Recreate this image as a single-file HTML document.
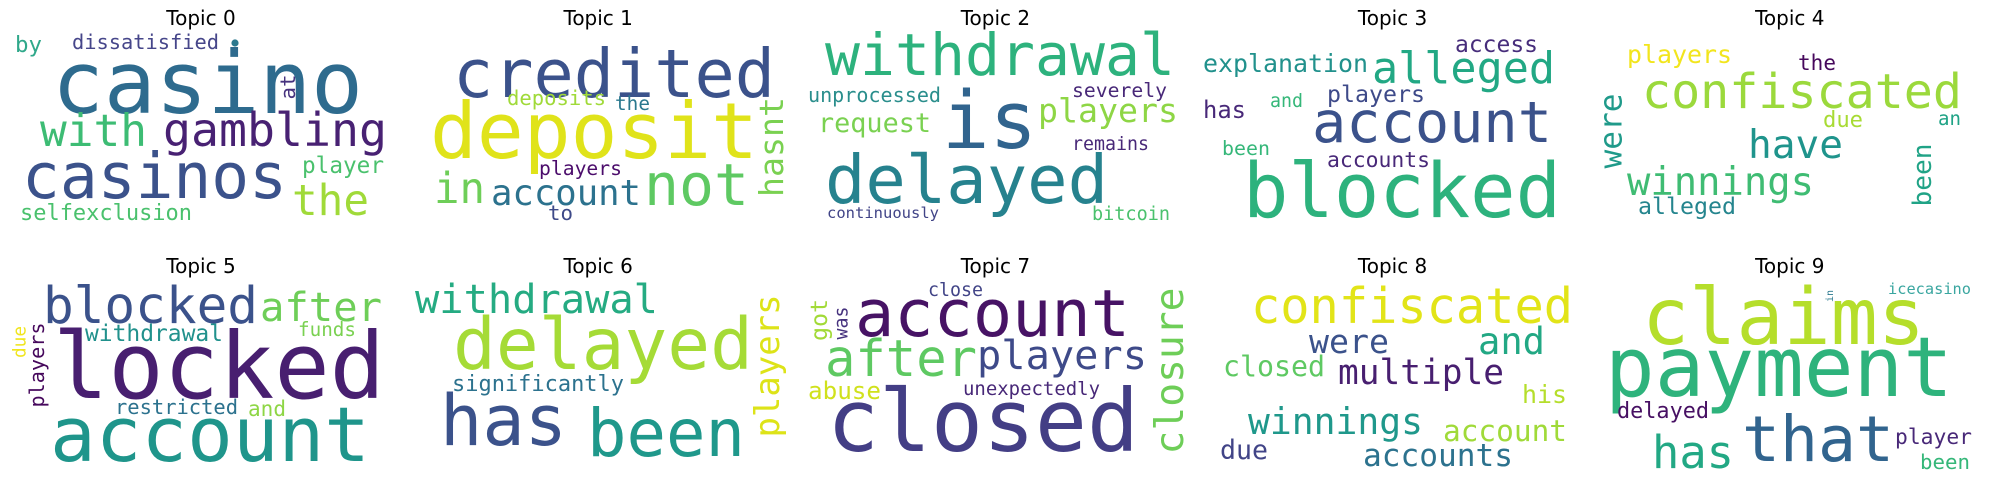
<!DOCTYPE html>
<html>
<head>
<meta charset="utf-8">
<style>
html,body{margin:0;padding:0;background:#fff;}
svg{display:block;}
</style>
</head>
<body>
<svg id="chart" width="1990" height="482" viewBox="0 0 1990 482" xmlns="http://www.w3.org/2000/svg">
<rect x="0" y="0" width="1990" height="482" fill="#ffffff"/>
<g id="titles"></g>
<g id="words"></g>
</svg>
<script>
// Topic titles
const topicTitles = ["Topic 0","Topic 1","Topic 2","Topic 3","Topic 4","Topic 5","Topic 6","Topic 7","Topic 8","Topic 9"];
// Word lists per topic
const wordTexts = [
 ["by","dissatisfied","casino","at","with","gambling","casinos","player","the","selfexclusion"],
 ["credited","deposit","deposits","the","hasnt","players","in","account","not","to"],
 ["withdrawal","is","unprocessed","request","severely","players","remains","delayed","continuously","bitcoin"],
 ["access","explanation","alleged","has","and","players","account","been","accounts","blocked"],
 ["players","the","confiscated","were","due","an","have","been","winnings","alleged"],
 ["blocked","after","due","players","withdrawal","funds","locked","restricted","and","account"],
 ["withdrawal","delayed","players","significantly","has","been"],
 ["close","got","was","account","after","players","abuse","unexpectedly","closed","closure"],
 ["confiscated","were","and","closed","multiple","his","winnings","account","due","accounts"],
 ["claims","payment","icecasino","in","delayed","that","has","player","been"]
];
// Word layout: [x-left (or center if rotated), baseline y (or center), rendered width/length, rotated(1)]
const wordBoxes = [
 [[15,52,27,0],[72,49,147,0],[52,113,311,0],[289,87,25,1],[40,146,107,0],[163,146,224,0],[22,198,265,0],[302,173,82,0],[292,215,77,0],[20,220,172,0]],
 [[453,97,322,0],[430,158,328,0],[507,105,99,0],[615,110,35,0],[773,147,100,1],[539,175,83,0],[434,203,51,0],[491,205,150,0],[644,205,105,0],[548,220,25,0]],
 [[825,75,350,0],[942,148,95,0],[808,102,133,0],[818,132,113,0],[1072,97,95,0],[1038,122,140,0],[1072,150,77,0],[825,203,283,0],[827,218,112,0],[1092,220,78,0]],
 [[1455,52,83,0],[1203,72,165,0],[1372,83,183,0],[1203,118,43,0],[1270,107,33,0],[1327,102,98,0],[1312,142,240,0],[1222,155,48,0],[1327,167,103,0],[1243,217,318,0]],
 [[1627,63,105,0],[1798,70,38,0],[1642,108,320,0],[1612,131,75,1],[1823,127,40,0],[1938,125,23,0],[1748,158,95,0],[1923,175,63,1],[1627,195,187,0],[1638,214,98,0]],
 [[43,323,215,0],[260,321,122,0],[20,342,32,1],[38,365,85,1],[85,341,138,0],[298,336,58,0],[53,398,332,0],[115,414,123,0],[248,416,38,0],[50,461,320,0]],
 [[415,313,243,0],[453,369,300,0],[769,366,143,1],[452,391,172,0],[440,445,127,0],[587,456,158,0]],
 [[928,296,55,0],[820,320,42,1],[842,323,33,1],[855,336,275,0],[825,376,152,0],[977,369,170,0],[808,399,73,0],[963,395,137,0],[827,451,312,0],[1171,371,167,1]],
 [[1251,323,322,0],[1309,353,80,0],[1478,354,67,0],[1223,376,102,0],[1338,384,166,0],[1522,403,45,0],[1248,434,175,0],[1443,441,124,0],[1220,459,48,0],[1363,466,150,0]],
 [[1642,344,283,0],[1605,396,348,0],[1888,294,83,0],[1830,296,12,1],[1617,418,92,0],[1742,461,152,0],[1652,468,82,0],[1895,444,77,0],[1920,469,50,0]]
];
// Word colours per topic
const wordColors = [
 ["#2fa88a","#46468a","#2e6b8e","#46327e","#3dbc74","#482173","#3b528b","#4ac16d","#a0da39","#4ac16d"],
 ["#3b528b","#e0e31a","#a0da39","#2a788e","#7ad151","#4b0c6b","#6ece58","#2c728e","#5ec962","#3e4a89"],
 ["#2db27d","#31648e","#2a8e8c","#7ad151","#482878","#8ed645","#482878","#26828e","#414487","#4ac16d"],
 ["#472d7b","#21918c","#22a884","#482878","#35b779","#3e4a89","#3b528b","#35b779","#482878","#2db27d"],
 ["#f2e51d","#46085c","#9bd93c","#1f9a8a","#a8db34","#20a386","#1f948c","#20a386","#3fbc73","#25858e"],
 ["#3b528b","#6ece58","#f0e51c","#46085c","#21918c","#7ad151","#481f70","#2c728e","#8ed645","#1f958b"],
 ["#25ab82","#a5db36","#dde318","#2c728e","#3b528b","#1f988b"],
 ["#414487","#a2da37","#46327e","#471365","#5ec962","#3e4a89","#d0e11c","#482878","#433e85","#6ece58"],
 ["#e2e418","#3b528b","#22a884","#5ec962","#481f70","#b5de2b","#1f988b","#a0da39","#414487","#2c728e"],
 ["#b5de2b","#2eb37c","#3aa6a0","#2a788e","#471063","#31648e","#22a884","#482878","#35b779"]
];

const NS = "http://www.w3.org/2000/svg";
const tg = document.getElementById("titles");
const wg = document.getElementById("words");
const FONT = '"DejaVu Sans Mono","Liberation Mono",monospace';

function titleX(i){ return 201 + 397.2 * (i % 5); }
function titleY(i){ return i < 5 ? 25 : 273; }

topicTitles.forEach(function(t, i){
  const el = document.createElementNS(NS, "text");
  el.setAttribute("x", titleX(i));
  el.setAttribute("y", titleY(i));
  el.setAttribute("text-anchor", "middle");
  el.setAttribute("font-family", '"DejaVu Sans","Liberation Sans",sans-serif');
  el.setAttribute("font-size", "20");
  el.setAttribute("fill", "#000");
  el.textContent = t;
  
  
  tg.appendChild(el);
});

wordTexts.forEach(function(list, p){
  const g = document.createElementNS(NS, "g");
  
  
  wg.appendChild(g);
  list.forEach(function(w, k){
    const b = wordBoxes[p][k];
    const len = b[2];
    const size = len / (w.length * 0.602);
    const el = document.createElementNS(NS, "text");
    el.setAttribute("font-family", FONT);
    el.setAttribute("font-size", size.toFixed(1));
    el.setAttribute("fill", wordColors[p][k]);
    el.setAttribute("textLength", len);
    el.setAttribute("lengthAdjust", "spacingAndGlyphs");
    if (b[3]) {
      el.setAttribute("x", 0);
      el.setAttribute("y", 0);
      el.setAttribute("text-anchor", "middle");
      el.setAttribute("dy", (size * 0.3).toFixed(1));
      el.setAttribute("transform", "translate(" + b[0] + "," + b[1] + ") rotate(-90)");
    } else {
      el.setAttribute("x", b[0]);
      el.setAttribute("y", b[1]);
    }
    el.textContent = w;
    
    
    g.appendChild(el);
  });
});

// small dot glyph in topic 0
const dot = document.createElementNS(NS, "circle");
dot.setAttribute("cx", 235);
dot.setAttribute("cy", 43);
dot.setAttribute("r", 3.6);
dot.setAttribute("fill", "#2a788e");


wg.appendChild(dot);
</script>
</body>
</html>
